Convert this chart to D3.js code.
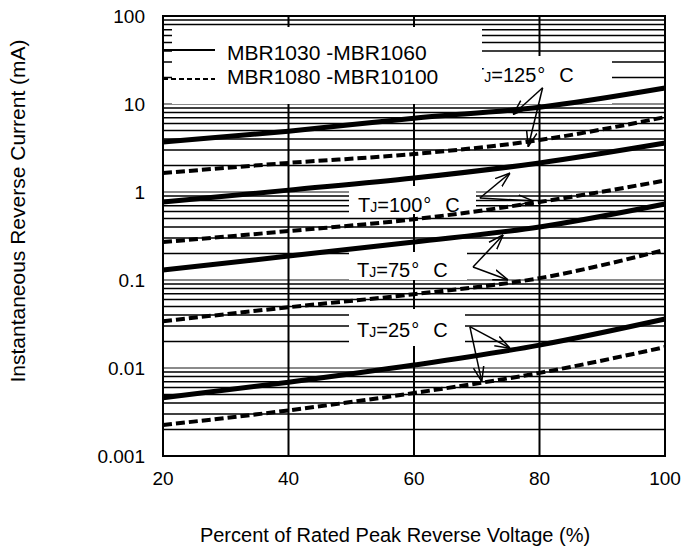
<!DOCTYPE html>
<html>
<head>
<meta charset="utf-8">
<script src="https://cdn.jsdelivr.net/npm/d3@7"></script>
<style>
  body { margin: 0; background: #fff; }
  svg { font-family: "Liberation Sans", Arial, sans-serif; }
</style>
</head>
<body>
<svg id="chart" width="686" height="552"></svg>
<script>
// percent of rated peak reverse voltage
const pct = [20, 40, 60, 80, 100];

// MBR1030-MBR1060 (solid), mA
const solid125 = [3.7, 4.9, 6.9, 9.2, 15.2];
const solid100 = [0.77, 1.05, 1.44, 2.14, 3.6];
const solid75 = [0.13, 0.187, 0.27, 0.40, 0.73];
const solid25 = [0.0046, 0.0069, 0.0108, 0.0182, 0.036];

// MBR1080-MBR10100 (dashed), mA
const dashed125 = [1.64, 2.14, 2.7, 3.9, 7.1];
const dashed100 = [0.27, 0.36, 0.49, 0.77, 1.35];
const dashed75 = [0.034, 0.049, 0.069, 0.105, 0.22];
const dashed25 = [0.00225, 0.0033, 0.0052, 0.0088, 0.0173];

const xTicks = [20, 40, 60, 80, 100];
const yTicks = [100, 10, 1, 0.1, 0.01, 0.001];
const yTickLabels = ["100", "10", "1", "0.1", "0.01", "0.001"];
const legendLabels = ["MBR1030 -MBR1060", "MBR1080 -MBR10100"];
const tempLabels = ["125", "100", "75", "25"];

// arrow annotations in data units: origin, solid target, dashed target
const arrowFrom = [[80.5, 15.3], [70.5, 0.855], [69.4, 0.1405], [68.9, 0.0295]];
const arrowSolid = [[75.8, 7.6], [75.3, 1.64], [74.2, 0.325], [75.3, 0.0168]];
const arrowDashed = [[78.2, 3.27], [79.0, 0.79], [75.0, 0.1], [70.8, 0.007]];

var svg = d3.select("#chart");

var x = d3.scaleLinear().domain([20, 100]).range([163, 665]);
var y = d3.scaleLog().domain([0.001, 100]).range([456, 16]);

// horizontal grid
var hlines = [];
[0.001, 0.01, 0.1, 1, 10].forEach(d => {
  for (var k = 1; k <= 9; k++) hlines.push({ v: d * k, major: k == 1 });
});
svg.append("g").selectAll("line")
  .data(hlines.filter(d => d.v > 0.001))
  .enter().append("line")
  .attr("x1", x(20)).attr("x2", x(100))
  .attr("y1", d => y(d.v)).attr("y2", d => y(d.v))
  .attr("stroke", d => d.major ? "#8a8a8a" : "#000")
  .attr("stroke-width", d => d.major ? 2 : 1.5);

// vertical grid
svg.append("g").selectAll("line")
  .data([40, 60, 80])
  .enter().append("line")
  .attr("x1", d => x(d)).attr("x2", d => x(d))
  .attr("y1", y(100)).attr("y2", y(0.001))
  .attr("stroke", "#000").attr("stroke-width", 2);

// label boxes [x, y, w, h] and text anchor [x, baseline]
var boxes = [[476, 56, 136, 48], [349, 186, 127, 28], [349, 252, 118, 28], [349, 309, 116, 37]];
var textPos = [[472, 82], [358, 212], [357, 277], [357, 337]];

function tempLabel(i) {
  svg.append("rect")
    .attr("x", boxes[i][0]).attr("y", boxes[i][1])
    .attr("width", boxes[i][2]).attr("height", boxes[i][3])
    .attr("fill", "#fff");
  var t = svg.append("text")
    .attr("x", textPos[i][0]).attr("y", textPos[i][1])
    .style("font-size", "20px");
  t.append("tspan").text("T");
  t.append("tspan").style("font-size", "14px").text("J");
  t.append("tspan").text("=" + tempLabels[i]);
  t.append("tspan").attr("dx", 1).text("°");
  t.append("tspan").attr("dx", 14).text("C");
}

tempLabel(0);

// legend box
svg.append("rect")
  .attr("x", 172).attr("y", 27).attr("width", 310).attr("height", 77)
  .attr("fill", "#fff");

svg.append("line")
  .attr("x1", 163).attr("x2", 215).attr("y1", 50).attr("y2", 50)
  .attr("stroke", "#000").attr("stroke-width", 2);
svg.append("line")
  .attr("x1", 163).attr("x2", 215).attr("y1", 79).attr("y2", 79)
  .attr("stroke", "#000").attr("stroke-width", 2)
  .attr("stroke-dasharray", "5,3");
svg.append("g").selectAll("text")
  .data(legendLabels)
  .enter().append("text")
  .attr("x", 227).attr("y", (d, i) => 60 + i * 24)
  .style("font-size", "21px")
  .text(d => d);

for (var i = 1; i < 4; i++) tempLabel(i);

// curves
var line = d3.line()
  .x((d, i) => x(pct[i]))
  .y(d => y(d))
  .curve(d3.curveMonotoneX);

[solid125, solid100, solid75, solid25].forEach(s => {
  svg.append("path").attr("d", line(s))
    .attr("fill", "none").attr("stroke", "#000").attr("stroke-width", 5);
});
[dashed125, dashed100, dashed75, dashed25].forEach(s => {
  svg.append("path").attr("d", line(s))
    .attr("fill", "none").attr("stroke", "#000").attr("stroke-width", 4)
    .attr("stroke-dasharray", "9,4");
});

// arrows
svg.append("defs").append("marker")
  .attr("id", "head")
  .attr("viewBox", "0 0 10 10")
  .attr("refX", 10).attr("refY", 5)
  .attr("markerUnits", "userSpaceOnUse")
  .attr("markerWidth", 15).attr("markerHeight", 15)
  .attr("orient", "auto")
  .append("path")
  .attr("d", "M0,1.5 L10,5 L0,8.5")
  .attr("fill", "none").attr("stroke", "#000").attr("stroke-width", 1);

arrowFrom.forEach((f, i) => {
  [arrowSolid[i], arrowDashed[i]].forEach(t => {
    svg.append("line")
      .attr("x1", x(f[0])).attr("y1", y(f[1]))
      .attr("x2", x(t[0])).attr("y2", y(t[1]))
      .attr("stroke", "#000").attr("stroke-width", 1.5)
      .attr("marker-end", "url(#head)");
  });
});

// frame
svg.append("rect")
  .attr("x", x(20)).attr("y", y(100))
  .attr("width", x(100) - x(20)).attr("height", y(0.001) - y(100))
  .attr("fill", "none").attr("stroke", "#000").attr("stroke-width", 2);

// tick labels
svg.append("g").selectAll("text")
  .data(yTicks)
  .enter().append("text")
  .attr("x", 145).attr("y", d => y(d) + 7)
  .attr("text-anchor", "end")
  .style("font-size", "19px")
  .text((d, i) => yTickLabels[i]);

svg.append("g").selectAll("text")
  .data(xTicks)
  .enter().append("text")
  .attr("x", d => x(d)).attr("y", 485)
  .attr("text-anchor", "middle")
  .style("font-size", "19px")
  .text(d => d);

// axis titles
svg.append("text")
  .attr("x", 395).attr("y", 542)
  .attr("text-anchor", "middle")
  .style("font-size", "20px")
  .text("Percent of Rated Peak Reverse Voltage (%)");

svg.append("text")
  .attr("transform", "rotate(-90)")
  .attr("x", -211).attr("y", 25)
  .attr("text-anchor", "middle")
  .style("font-size", "21px")
  .text("Instantaneous Reverse Current (mA)");
</script>
</body>
</html>
